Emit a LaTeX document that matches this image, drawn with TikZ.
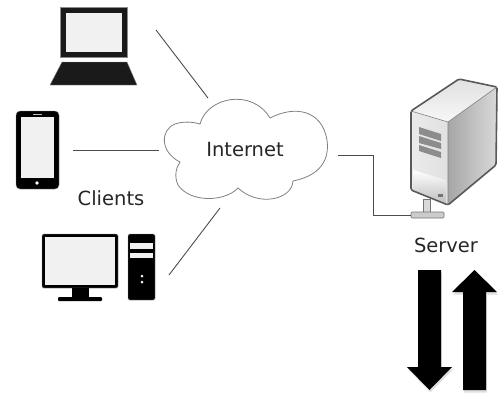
\documentclass[tikz,border=0pt]{standalone}
\usepackage{fontspec}
\setmainfont{DejaVu Sans}
\usetikzlibrary{shadows}
\definecolor{iconblack}{HTML}{1A1A1A}
\definecolor{screengray}{HTML}{F1F1F1}
\tikzset{%
  label text/.style = {text=black!85, inner sep=0pt, font=\fontsize{19.5}{22}\selectfont},
  wire/.style = {draw=black!70, line width=0.9pt},
  icon/.style = {fill=iconblack, draw=black!45, line width=0.4pt},
  screen/.style = {fill=screengray},
  big arrow/.style = {fill=black, drop shadow={shadow xshift=1pt, shadow yshift=-2.5pt, opacity=0.25}}
}
\begin{document}
\begin{tikzpicture}[x=1pt,y=-1pt]
\useasboundingbox (0,0) rectangle (500,397);

% laptop
\path[icon] (60,7) rectangle (127,57);
\path[screen] (66,13) rectangle (122,52);
\path[icon] (62,62) -- (127,62) -- (137,85) -- (50,85) -- cycle;

% phone
\path[icon, fill=black, rounded corners=4pt] (16,111) rectangle (59,189);
\path[screen] (21,117) rectangle (54,178);
\draw[white!75!black, line width=0.7pt] (33,114) -- (42,114);
\fill[white] (37,183) circle (1.8);

% desktop
\path[icon, fill=black, rounded corners=1.5pt] (42,234) rectangle (118,288);
\path[screen] (45,237) rectangle (115,285);
\fill[black] (72,288) rectangle (89,298);
\fill[black, rounded corners=1pt] (58,297) rectangle (102,301);
\path[icon, fill=black, rounded corners=1.5pt] (128,234) rectangle (155,300);
\path[screen] (130,243) rectangle (153,249);
\path[screen] (130,253) rectangle (153,258);
\fill[screengray] (142,276) circle (1.5) (142,282) circle (1.5);

% cloud
\draw[black!50, fill=white, line width=0.8pt]
  (200,124) .. controls (207,97) and (252,88) .. (270,118)
  .. controls (295,105) and (322,110) .. (327,140)
  .. controls (330,162) and (318,176) .. (293,181)
  .. controls (292,200) and (258,207) .. (238,188)
  .. controls (225,202) and (190,203) .. (178,185)
  .. controls (174,176) and (176,168) .. (180,162)
  .. controls (160,152) and (160,130) .. (175,124)
  .. controls (184,121) and (193,122) .. (200,124) -- cycle;
\node[label text] (internet) at (245,150) {Internet};
\node[label text] (clients) at (111,198) {Clients};
\node[label text] (server) at (446,245) {Server};

% server
\shade[left color=black!8, right color=black!12] (411,111) -- (448,122) -- (448,205) -- (411,190) -- cycle;
\shade[bottom color=black!25, top color=white] (413,170) -- (446,180) -- (446,203) -- (413,190) -- cycle;
\shade[left color=black!35, right color=black!15] (448,122) -- (497,87) -- (496,165) -- (448,205) -- cycle;
\shade[top color=black!12, bottom color=black!3] (411,111) -- (459,79) -- (497,87) -- (448,122) -- cycle;
\draw[black!65, line width=1.6pt, line join=round, rounded corners=1.5pt]
  (411,111) -- (459,79) -- (497,87) -- (496,165) -- (448,205) -- (411,190) -- cycle;
\draw[black!50, line width=0.6pt] (411,111) -- (448,122) -- (448,205) (448,122) -- (497,87);
\fill[black!45] (419,127) -- (441,134) -- (441,141) -- (419,134) -- cycle;
\fill[black!45] (419,136) -- (441,143) -- (441,149) -- (419,143) -- cycle;
\fill[black!45] (419,145) -- (441,152) -- (441,158) -- (419,151) -- cycle;
\fill[black!55] (438,194) rectangle (443,197);

% connector
\draw[black!55, fill=black!15, line width=0.6pt] (423,199) rectangle (430,214);
\draw[black!55, fill=black!20, rounded corners=1pt, line width=0.6pt] (411,212) rectangle (444,218);

% lines
\coordinate (laptop end) at (156,30);
\coordinate (cloud top) at (208,98);
\coordinate (phone end) at (73,150);
\coordinate (cloud left) at (159,150);
\coordinate (desktop end) at (169,275);
\coordinate (cloud bottom) at (220,208);
\coordinate (cloud right) at (338,155);
\coordinate (server end) at (411,215);
\draw[wire] (laptop end) -- (cloud top);
\draw[wire] (phone end) -- (cloud left);
\draw[wire] (desktop end) -- (cloud bottom);
\draw[wire] (cloud right) -- (373,155) -- (373,215) -- (server end);

% arrows
\path[big arrow] (418,270) -- (441,270) -- (441,367) -- (452,367) -- (429.5,390) -- (407,367) -- (418,367) -- cycle;
\path[big arrow] (463,390) -- (486,390) -- (486,292) -- (497,292) -- (474.5,270) -- (452,292) -- (463,292) -- cycle;
\end{tikzpicture}
\end{document}
